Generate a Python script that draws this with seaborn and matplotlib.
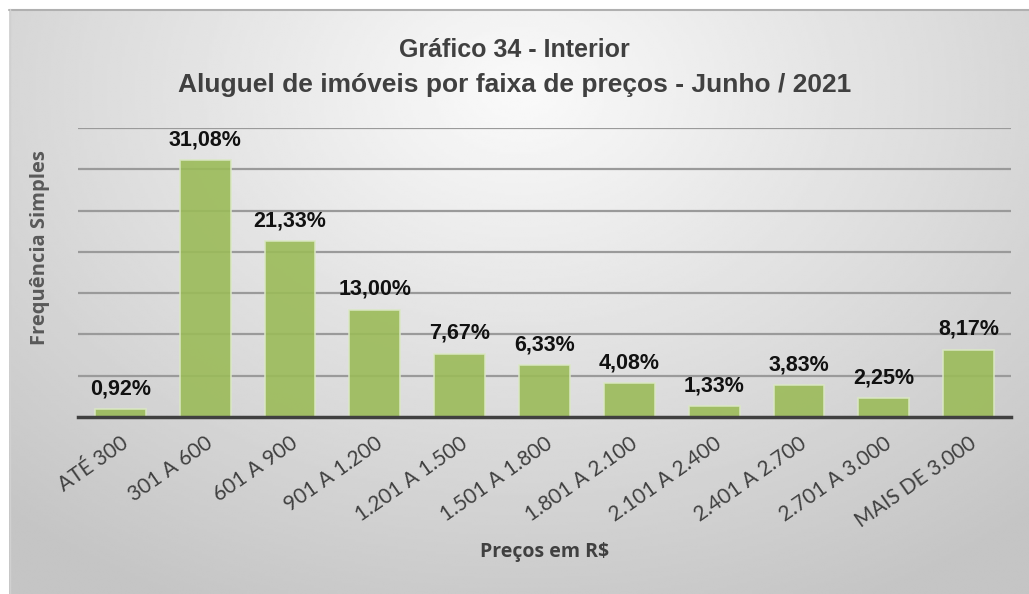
import numpy as np
import matplotlib
matplotlib.use("Agg")
import matplotlib.pyplot as plt
import seaborn as sns
import pandas as pd

faixas = ['ATÉ 300', '301 A 600', '601 A 900', '901 A 1.200', '1.201 A 1.500',
          '1.501 A 1.800', '1.801 A 2.100', '2.101 A 2.400', '2.401 A 2.700',
          '2.701 A 3.000', 'MAIS DE 3.000']
percentuais = [0.92, 31.08, 21.33, 13.00, 7.67, 6.33, 4.08, 1.33, 3.83, 2.25, 8.17]
rotulos = ['0,92%', '31,08%', '21,33%', '13,00%', '7,67%', '6,33%', '4,08%',
           '1,33%', '3,83%', '2,25%', '8,17%']

df = pd.DataFrame({'faixa': faixas, 'pct': percentuais})

sns.set_style("white")
plt.rcParams['font.family'] = ['Liberation Sans', 'DejaVu Sans']

W, H = 1029, 594
fig = plt.figure(figsize=(W / 100, H / 100), dpi=100)
fig.patch.set_facecolor('white')

# background panel with radial gray gradient
bg = fig.add_axes([0, 0, 1, 1], zorder=-5)
bg.set_xlim(0, W)
bg.set_ylim(H, 0)
bg.axis('off')
xx, yy = np.meshgrid(np.linspace(9, W, 400), np.linspace(9, H, 240))
r = np.sqrt(((xx - 520) / 700) ** 2 + ((yy - 90) / 520) ** 2)
shade = np.clip(0.98 - 0.19 * r, 0.77, 0.98)
bg.imshow(shade, cmap='gray', vmin=0, vmax=1, extent=(9, W, H, 9),
          aspect='auto', interpolation='bilinear')
bg.plot([9, W], [9.5, 9.5], color='#b0b0b0', lw=1.5)
bg.plot([9.5, 9.5], [9, H], color='#d0d0d0', lw=1)

ax = fig.add_axes([78 / W, 1 - 417 / H, (1011 - 78) / W, (417 - 128) / H])
ax.patch.set_alpha(0)
sns.barplot(data=df, x='faixa', y='pct', color='#9BBB59', saturation=1, width=0.6,
            edgecolor='#dbe8c4', linewidth=1.2, alpha=0.9, ax=ax, zorder=3)
ax.set_ylim(0, 35)
ax.set_xlim(-0.5, len(faixas) - 0.5)
ax.set_yticks(np.arange(5, 36, 5))
ax.yaxis.grid(True, color='#9a9a9a', lw=1.6, zorder=1)
ax.set_axisbelow(True)
ax.tick_params(axis='y', left=False, labelleft=False)
ax.tick_params(axis='x', bottom=False, pad=8)
for s in ['top', 'right', 'left']:
    ax.spines[s].set_visible(False)
ax.spines['bottom'].set_color('#404040')
ax.spines['bottom'].set_linewidth(2.5)
ax.spines['bottom'].set_zorder(5)

ax.set_xticks(range(len(faixas)))
ax.set_xticklabels(faixas, rotation=35, ha='right', rotation_mode='anchor',
                   fontsize=15, color='#404040', family=['Lato', 'DejaVu Sans'])

for i, (v, lab) in enumerate(zip(percentuais, rotulos)):
    ax.annotate(lab, (i, v), xytext=(0, 7), textcoords='offset points',
                ha='center', va='bottom', fontsize=15.5, fontweight='bold',
                color='#111111')

ax.set_xlabel('Preços em R$', fontsize=14, fontweight='bold', color='#404040',
              family=['Open Sans', 'DejaVu Sans'], labelpad=8)
ax.set_ylabel('Frequência Simples', fontsize=14.5, fontweight='bold', color='#595959',
              family=['Open Sans', 'DejaVu Sans'])
ax.yaxis.set_label_coords(-0.03, 0.585)

fig.text(0.5, 1 - 50 / H, 'Gráfico 34 - Interior', ha='center', va='center',
         fontsize=18, fontweight='bold', color='#404040')
fig.text(0.5, 1 - 85 / H, 'Aluguel de imóveis por faixa de preços - Junho / 2021',
         ha='center', va='center', fontsize=19, fontweight='bold', color='#404040')

fig.savefig('out.png', dpi=100)
